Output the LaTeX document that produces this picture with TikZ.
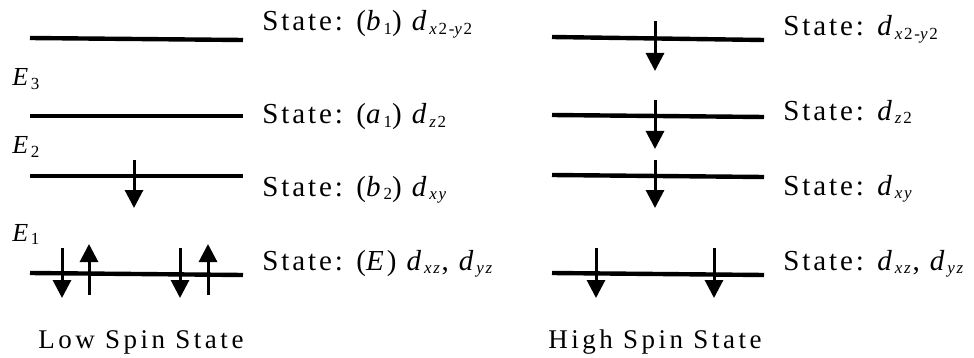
\documentclass[tikz,border=0pt]{standalone}
\usepackage{fontspec}
\setmainfont{Liberation Serif}[LetterSpace=10]
\usepackage{tikz}
\usetikzlibrary{arrows.meta}

\newcommand{\lsub}[1]{\raisebox{-0.12em}{\fontsize{8.5}{9}\selectfont #1}}

\tikzset{
  level/.style={line width=2.2pt},
  spin/.style={line width=1.5pt,-{Triangle[width=9pt,length=9pt]}},
  statelabel/.style={anchor=base west,inner sep=0pt,font=\fontsize{14.5}{16}\selectfont},
  elabel/.style={anchor=base west,inner sep=0pt,font=\fontsize{13}{14}\selectfont},
  titlelabel/.style={anchor=base west,inner sep=0pt,font=\fontsize{13.5}{15}\selectfont\addfontfeature{LetterSpace=13}}
}

\begin{document}
\begin{tikzpicture}[x=0.5pt,y=-0.5pt]
\useasboundingbox (0,0) rectangle (974,358);
% low spin levels
\coordinate (la1) at (30,38);  \coordinate (lb1) at (243,40);
\coordinate (la2) at (30,116); \coordinate (lb2) at (243,116);
\coordinate (la3) at (30,176); \coordinate (lb3) at (243,176);
\coordinate (la4) at (30,273); \coordinate (lb4) at (243,275);
\draw[level] (la1) -- (lb1);
\draw[level] (la2) -- (lb2);
\draw[level] (la3) -- (lb3);
\draw[level] (la4) -- (lb4);
% high spin levels
\coordinate (ra1) at (552,37);  \coordinate (rb1) at (764,40);
\coordinate (ra2) at (552,115); \coordinate (rb2) at (764,117);
\coordinate (ra3) at (552,175); \coordinate (rb3) at (764,177);
\coordinate (ra4) at (552,273); \coordinate (rb4) at (764,275);
\draw[level] (ra1) -- (rb1);
\draw[level] (ra2) -- (rb2);
\draw[level] (ra3) -- (rb3);
\draw[level] (ra4) -- (rb4);
% spins, low spin
\coordinate (s1a) at (134,160); \coordinate (s1b) at (134,208);
\draw[spin] (s1a) -- (s1b);
\coordinate (s2a) at (62,248);  \coordinate (s2b) at (62,298);
\coordinate (s3a) at (89,295);  \coordinate (s3b) at (89,244);
\coordinate (s4a) at (180,248); \coordinate (s4b) at (180,298);
\coordinate (s5a) at (208,295); \coordinate (s5b) at (208,244);
\draw[spin] (s2a) -- (s2b);
\draw[spin] (s3a) -- (s3b);
\draw[spin] (s4a) -- (s4b);
\draw[spin] (s5a) -- (s5b);
% spins, high spin
\coordinate (h1a) at (655,21);  \coordinate (h1b) at (655,71);
\coordinate (h2a) at (655,100); \coordinate (h2b) at (655,149);
\coordinate (h3a) at (655,160); \coordinate (h3b) at (655,208);
\coordinate (h4a) at (596,248); \coordinate (h4b) at (596,298);
\coordinate (h5a) at (714,248); \coordinate (h5b) at (714,298);
\draw[spin] (h1a) -- (h1b);
\draw[spin] (h2a) -- (h2b);
\draw[spin] (h3a) -- (h3b);
\draw[spin] (h4a) -- (h4b);
\draw[spin] (h5a) -- (h5b);
% energy labels
\node[elabel] (e3) at (12,86)  {\textit{E}\lsub{3}};
\node[elabel] (e2) at (12,154) {\textit{E}\lsub{2}};
\node[elabel] (e1) at (12,241) {\textit{E}\lsub{1}};
% state labels
\node[statelabel] (lt1) at (262,31)  {State: (\textit{b}\lsub{1}) \textit{d}\lsub{\textit{x}2-\textit{y}2}};
\node[statelabel] (lt2) at (262,124) {State: (\textit{a}\lsub{1}) \textit{d}\lsub{\textit{z}2}};
\node[statelabel] (lt3) at (262,196) {State: (\textit{b}\lsub{2}) \textit{d}\lsub{\textit{xy}}};
\node[statelabel] (lt4) at (262,270) {State: (\textit{E}) \textit{d}\lsub{\textit{xz}}, \textit{d}\lsub{\textit{yz}}};
\node[statelabel] (rt1) at (783,36)  {State: \textit{d}\lsub{\textit{x}2-\textit{y}2}};
\node[statelabel] (rt2) at (783,120) {State: \textit{d}\lsub{\textit{z}2}};
\node[statelabel] (rt3) at (783,195) {State: \textit{d}\lsub{\textit{xy}}};
\node[statelabel] (rt4) at (783,270) {State: \textit{d}\lsub{\textit{xz}}, \textit{d}\lsub{\textit{yz}}};
% titles
\node[titlelabel] (low)  at (38,348)  {Low Spin State};
\node[titlelabel] (high) at (548,348) {High Spin State};
\end{tikzpicture}
\end{document}
